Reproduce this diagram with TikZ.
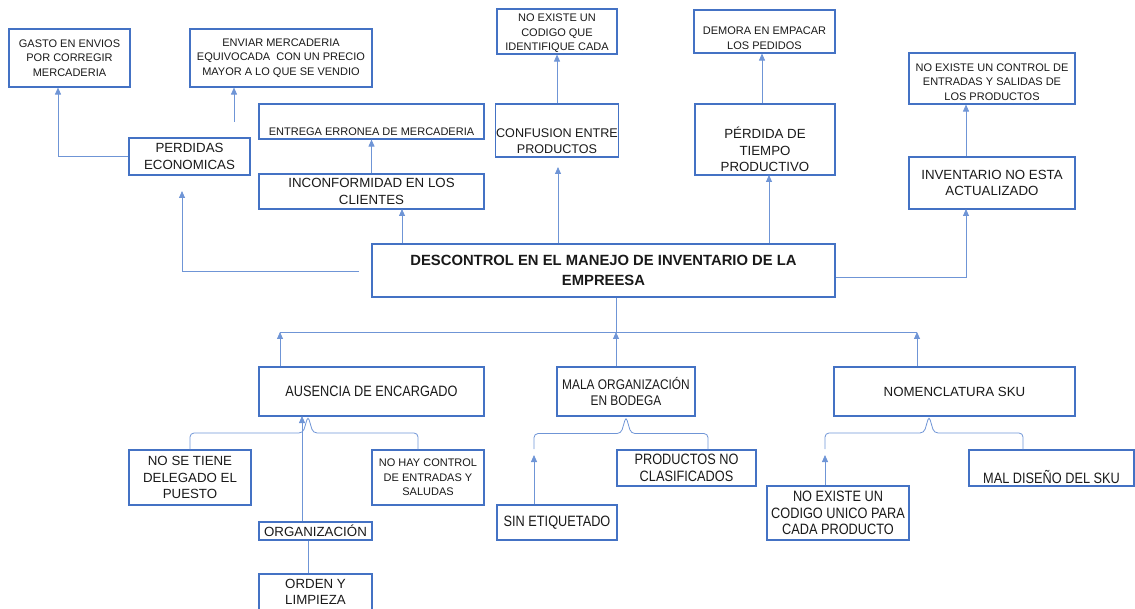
\documentclass[tikz,border=0pt]{standalone}
\usepackage{fontspec}
\setmainfont{Liberation Sans}
\newfontfamily\narrowfont[FakeStretch=0.85]{Liberation Sans}
\usetikzlibrary{arrows.meta}
\definecolor{boxblue}{HTML}{4472C4}
\definecolor{linkblue}{HTML}{6F95D6}
\newcommand{\pad}[1]{\rule{0pt}{#1pt}}

\begin{document}
\begin{tikzpicture}[x=1pt,y=-1pt,
 box/.style={draw=boxblue,line width=1.1pt,align=center,inner sep=1pt,text=black!90,font=\fontsize{13.3}{16.5}\selectfont},
 small/.style={font=\fontsize{11}{14.5}\selectfont},
 narrow/.style={font=\narrowfont\fontsize{15}{16.7}\selectfont},
 titlebox/.style={font=\bfseries\fontsize{14.8}{20}\selectfont},
 plain/.style={draw=linkblue,line width=0.8pt},
 link/.style={plain,-{Triangle[width=6pt,length=7pt]}},
 brace/.style={plain,rounded corners=4pt}]
 \useasboundingbox (0,0) rectangle (1135,609);

 \node[box,small,minimum width=121pt,minimum height=58pt] (gasto) at (69.5,58) {GASTO EN ENVIOS\\POR CORREGIR\\MERCADERIA};
 \node[box,small,minimum width=182pt,minimum height=58pt] (enviar) at (281,58) {ENVIAR MERCADERIA\\EQUIVOCADA\ \ CON UN PRECIO\\MAYOR A LO QUE SE VENDIO};
 \node[box,minimum width=121pt,minimum height=37pt] (perdidas) at (189.5,156.5) {PERDIDAS\\ECONOMICAS};
 \node[box,small,minimum width=225pt,minimum height=35pt] (entrega) at (371.5,121.5) {\pad{28}ENTREGA ERRONEA DE MERCADERIA};
 \node[box,minimum width=225pt,minimum height=35pt] (inconf) at (371.5,191.5) {INCONFORMIDAD EN LOS\\CLIENTES};
 \node[box,small,minimum width=120pt,minimum height=43pt] (codigo) at (557,31.5) {\pad{12}NO EXISTE UN\\CODIGO QUE\\IDENTIFIQUE CADA};
 \node[box,font=\fontsize{12.6}{16}\selectfont,minimum width=120pt,minimum height=53pt] (confusion) at (557,130.5) {\pad{31}CONFUSION ENTRE\\PRODUCTOS};
 \node[box,small,minimum width=141pt,minimum height=43pt] (demora) at (764.5,31.5) {\pad{21}DEMORA EN EMPACAR\\LOS PEDIDOS};
 \node[box,minimum width=140pt,minimum height=71pt] (tiempo) at (765,139.5) {\pad{32}PÉRDIDA DE\\TIEMPO\\PRODUCTIVO};
 \node[box,small,minimum width=166pt,minimum height=51pt] (control) at (992,78.5) {\pad{15}NO EXISTE UN CONTROL DE\\ENTRADAS Y SALIDAS DE\\LOS PRODUCTOS};
 \node[box,minimum width=166pt,minimum height=52pt] (inventario) at (992,183) {INVENTARIO NO ESTA\\ACTUALIZADO};
 \node[box,titlebox,minimum width=463pt,minimum height=53pt] (problema) at (603.5,270.5) {DESCONTROL EN EL MANEJO DE INVENTARIO DE LA\\EMPREESA};

 \node[box,narrow,minimum width=225pt,minimum height=49pt] (ausencia) at (371.5,391.5) {AUSENCIA DE ENCARGADO};
 \node[box,narrow,font=\narrowfont\fontsize{14}{16.5}\selectfont,minimum width=138pt,minimum height=49pt] (mala) at (626,391.5) {MALA ORGANIZACIÓN\\EN BODEGA};
 \node[box,minimum width=241pt,minimum height=49pt] (nomen) at (954.5,391.5) {NOMENCLATURA SKU};
 \node[box,minimum width=122pt,minimum height=55pt] (delegado) at (190,477.5) {NO SE TIENE\\DELEGADO EL\\PUESTO};
 \node[box,small,minimum width=112pt,minimum height=55pt] (noctrl) at (428,477.5) {NO HAY CONTROL\\DE ENTRADAS Y\\SALUDAS};
 \node[box,minimum width=113pt,minimum height=18pt,inner sep=0pt] (organiz) at (315.5,531) {ORGANIZACIÓN};
 \node[box,minimum width=113pt,minimum height=36pt] (orden) at (315.5,592) {ORDEN Y\\LIMPIEZA};
 \node[box,narrow,minimum width=120pt,minimum height=35pt] (etiqueta) at (557,522.5) {SIN ETIQUETADO};
 \node[box,narrow,minimum width=139pt,minimum height=36pt] (clasif) at (686.5,468) {PRODUCTOS NO\\CLASIFICADOS};
 \node[box,narrow,minimum width=142pt,minimum height=54pt] (unico) at (838,513) {NO EXISTE UN\\CODIGO UNICO PARA\\CADA PRODUCTO};
 \node[box,narrow,minimum width=165pt,minimum height=36pt] (sku) at (1051.5,468) {\pad{32}MAL DISEÑO DEL SKU};

 \coordinate (e1) at (234,122);
 \coordinate (m1) at (359,271);
 \coordinate (p1) at (182,191);
 \coordinate (t1) at (402,209);
 \coordinate (t2) at (558,167);
 \coordinate (t3) at (769,175);
 \coordinate (t4) at (966,209);
 \draw[link] (perdidas.west) -| ([xshift=-11.5pt]gasto.south);
 \draw[link] (e1) -- (e1 |- enviar.south);
 \draw[link] (m1) -| (p1);
 \draw[link] (inconf.north) -- (entrega.south);
 \draw[link] (t1 |- problema.north) -- (t1);
 \draw[link] (confusion.north) -- (codigo.south);
 \draw[link] (t2 |- problema.north) -- (t2);
 \draw[link] ([xshift=-3pt]tiempo.north) -- ([xshift=-3pt]tiempo.north |- demora.south);
 \draw[link] (t3 |- problema.north) -- (t3);
 \draw[link] ([yshift=-6.5pt]problema.east) -| (t4);
 \draw[link] (t4 |- inventario.north) -- (t4 |- control.south);

 \coordinate (b1) at (280,332);
 \coordinate (b2) at (616,332);
 \coordinate (b3) at (917,332);
 \draw[plain] (b1) -- (b3);
 \draw[plain] (b2 |- problema.south) -- (b2);
 \draw[link] (b1 |- ausencia.north) -- (b1);
 \draw[link] (b2 |- mala.north) -- (b2);
 \draw[link] (b3 |- nomen.north) -- (b3);

 \coordinate (a1) at (308,416);
 \coordinate (o1) at (302,416);
 \coordinate (s1) at (534,455);
 \coordinate (n1) at (929,416);
 \coordinate (u1) at (825,455);
 \draw[brace] (delegado.north) |- ([xshift=-5pt,yshift=-17pt]a1) -- (a1) -- ([xshift=5pt,yshift=-17pt]a1) -| ([xshift=-10pt]noctrl.north);
 \draw[link] (o1 |- organiz.north) -- (o1);
 \draw[plain] (a1 |- organiz.south) -- (a1 |- orden.north);
 \draw[brace] ([yshift=6pt]s1) |- ([xshift=-5pt,yshift=-17pt]mala.south) -- (mala.south) -- ([xshift=5pt,yshift=-17pt]mala.south) -| ([xshift=21.5pt]clasif.north);
 \draw[link] (s1 |- etiqueta.north) -- (s1);
 \draw[brace] ([yshift=6pt]u1) |- ([xshift=-5pt,yshift=-17pt]n1) -- (n1) -- ([xshift=5pt,yshift=-17pt]n1) -| ([xshift=-28.5pt]sku.north);
 \draw[link] (u1 |- unico.north) -- (u1);
\end{tikzpicture}
\end{document}
